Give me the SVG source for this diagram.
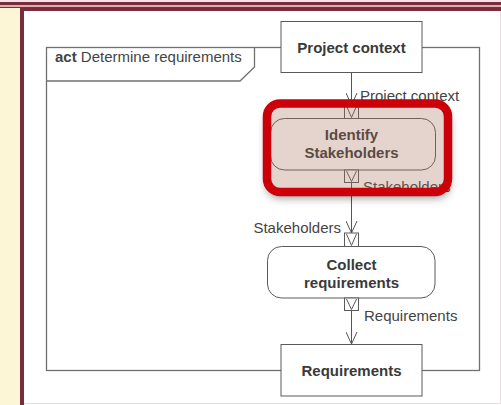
<svg xmlns="http://www.w3.org/2000/svg" width="501" height="405" viewBox="0 0 501 405">
  <defs>
    <style>
      .frame { fill: none; stroke: #707070; stroke-width: 1.3; }
      .box { fill: #ffffff; stroke: #5a5a5a; stroke-width: 1; }
      .action { fill: #ffffff; stroke: #5a5a5a; stroke-width: 1; }
      .pin { fill: #ffffff; stroke: #5a5a5a; stroke-width: 1; }
      .pinmark { fill: none; stroke: #5a5a5a; stroke-width: 1; }
      .flow { fill: none; stroke: #555555; stroke-width: 1; }
      .title { font-family: "Liberation Sans", Arial, sans-serif; font-size: 15px; font-weight: bold; fill: #3a3a3a; text-anchor: middle; }
      .label { font-family: "Liberation Sans", Arial, sans-serif; font-size: 15px; fill: #444444; }
    </style>
    <marker id="open" viewBox="0 0 14 12" refX="13" refY="6" markerWidth="14" markerHeight="12" markerUnits="userSpaceOnUse" orient="auto">
      <path d="M1,0.5 L13,6 L1,11.5" fill="none" stroke="#555555" stroke-width="1"/>
    </marker>
    <filter id="blur" x="-20%" y="-20%" width="140%" height="150%">
      <feGaussianBlur stdDeviation="4"/>
    </filter>
    <!-- keeps the drop shadow outside the highlight frame -->
    <mask id="outside">
      <rect x="0" y="0" width="501" height="405" fill="#ffffff"/>
      <rect x="263" y="99.5" width="189" height="96.5" rx="16" fill="#000000"/>
    </mask>
  </defs>

  <!-- page chrome -->
  <rect x="0" y="0" width="501" height="405" fill="#ffffff"/>
  <rect x="0" y="8" width="20" height="397" fill="#fdf6d6"/>
  <rect x="0" y="0" width="501" height="2" fill="#f3e4e6"/>
  <rect x="0" y="2" width="501" height="3" fill="#7b2b3d"/>
  <rect x="0" y="5" width="501" height="2" fill="#dcb1a8"/>
  <rect x="0" y="7" width="501" height="1" fill="#7b2b3d"/>
  <rect x="20" y="7" width="481" height="4" fill="#7b2b3d"/>
  <rect x="20" y="7" width="4" height="398" fill="#7b2b3d"/>
  <line x1="24" y1="403.5" x2="501" y2="403.5" stroke="#eadbe0" stroke-width="1"/>
  <line x1="500.5" y1="11" x2="500.5" y2="404" stroke="#eadbe0" stroke-width="1"/>

  <!-- activity frame -->
  <g id="frame">
    <rect class="frame" x="46.5" y="47.5" width="433" height="323"/>
    <path class="frame" d="M46.5,81 L240,81 L254.5,67 L254.5,47.5"/>
    <text class="label" x="55" y="62" fill="#333333"><tspan font-weight="bold">act</tspan> Determine requirements</text>
  </g>

  <!-- object flows -->
  <g id="connectors">
    <line class="flow" x1="351.5" y1="72.5" x2="351.5" y2="105" marker-end="url(#open)"/>
    <line class="flow" x1="351.5" y1="182.5" x2="351.5" y2="233" marker-end="url(#open)"/>
    <line class="flow" x1="351.5" y1="310.5" x2="351.5" y2="344" marker-end="url(#open)"/>
    <text class="label" x="360" y="101">Project context</text>
    <text class="label" x="363" y="191.5">Stakeholders</text>
    <text class="label" x="341" y="233" text-anchor="end">Stakeholders</text>
    <text class="label" x="364" y="320.5">Requirements</text>
  </g>

  <g id="project-context">
    <rect class="box" x="281" y="21.5" width="141" height="51"/>
    <text class="title" x="351.5" y="53">Project context</text>
  </g>

  <g id="identify-stakeholders">
    <rect class="action" x="270.5" y="118.5" width="165" height="51.5" rx="14"/>
    <text class="title" x="351.5" y="140">Identify</text>
    <text class="title" x="351.5" y="158">Stakeholders</text>
    <rect class="pin" x="344.5" y="105" width="14" height="13.5"/>
    <path class="pinmark" d="M346.5,106 L351.5,117.5 L356.5,106"/>
    <rect class="pin" x="344.5" y="170" width="14" height="12.5"/>
    <path class="pinmark" d="M346.5,171 L351.5,181.5 L356.5,171"/>
  </g>

  <g id="collect-requirements">
    <rect class="action" x="267.5" y="246.5" width="167.5" height="51.5" rx="14"/>
    <text class="title" x="351.5" y="269.5">Collect</text>
    <text class="title" x="351.5" y="287.5">requirements</text>
    <rect class="pin" x="344.5" y="233" width="14" height="13.5"/>
    <path class="pinmark" d="M346.5,234 L351.5,245.5 L356.5,234"/>
    <rect class="pin" x="344.5" y="298" width="14" height="12.5"/>
    <path class="pinmark" d="M346.5,299 L351.5,309.5 L356.5,299"/>
  </g>

  <g id="requirements">
    <rect class="box" x="281" y="344.5" width="141" height="51.5"/>
    <text class="title" x="351.5" y="376">Requirements</text>
  </g>

  <!-- highlight on the first action -->
  <g id="highlight">
    <g mask="url(#outside)">
      <rect x="266" y="108" width="184" height="90" rx="14" fill="#000000" fill-opacity="0.4" filter="url(#blur)"/>
    </g>
    <rect x="267" y="103.5" width="181" height="88.5" rx="13" fill="#a8705a" fill-opacity="0.3" stroke="#cc0008" stroke-width="8.5"/>
  </g>
</svg>
